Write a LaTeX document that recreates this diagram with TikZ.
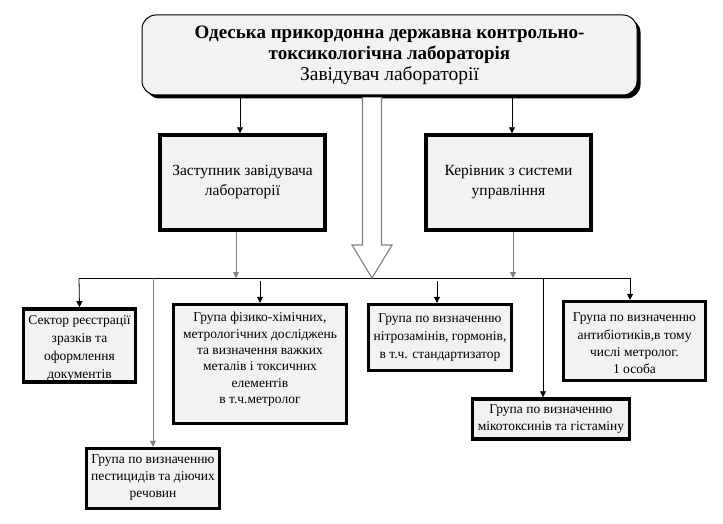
\documentclass[tikz,border=0pt]{standalone}
\usepackage{fontspec}
\setmainfont{Liberation Serif}
\usetikzlibrary{shadows,arrows.meta,calc}
\definecolor{boxgray}{HTML}{F2F2F2}
\definecolor{linegray}{HTML}{808080}
\newcommand{\dn}[1]{\rule[-#1]{0pt}{#1}}
\newcommand{\up}[1]{\rule{0pt}{#1}}
\begin{document}
\begin{tikzpicture}[x=1pt,y=-1pt,
  box/.style={draw=black, line width=3.4pt, fill=boxgray, align=center, inner sep=1pt,
    font=\fontsize{13.5}{17.8}\selectfont},
  bigbox/.style={box, font=\fontsize{15.5}{20}\selectfont},
  topbox/.style={draw=black, line width=1pt, fill=boxgray, rounded corners=14pt, align=center,
    font=\fontsize{19}{21}\selectfont\bfseries,
    drop shadow={shadow xshift=3.5pt, shadow yshift=-3.5pt, fill=black, opacity=1}},
  arr/.style={-{Triangle[length=6pt,width=6pt]}, line width=0.8pt},
  garr/.style={arr, draw=linegray},
]
\useasboundingbox (0,0) rectangle (723,524);
\fill[white] (0,0) rectangle (723,524);

\node[topbox, minimum width=495pt, minimum height=80pt] (top) at (389.5,55)
  {Одеська прикордонна державна контрольно-\\
   токсикологічна лабораторія\\
   \mdseries\fontsize{19.5}{21}\selectfont Завідувач лабораторії};

\node[bigbox, minimum width=165pt, minimum height=95pt] (zast) at (242.5,182.5)
  {Заступник завідувача\\лабораторії};
\node[bigbox, minimum width=165pt, minimum height=95pt] (ker) at (508.5,182.5)
  {Керівник з системи\\управління};

\coordinate (busL) at (79,278);
\coordinate (busR) at (630,278);
\coordinate (tip) at (372,278);

\node[box, minimum width=112pt, minimum height=73pt] (sec) at (79.5,345.5)
  {\up{15pt}Сектор реєстрації\\зразків та\\оформлення\\документів};
\node[box, minimum width=133pt, minimum height=60pt, font=\fontsize{13.5}{17}\selectfont] (pest) at (153,478.5)
  {Група по визначенню\\пестицидів та діючих\\речовин\dn{5pt}};
\node[box, minimum width=173pt, minimum height=119pt, font=\fontsize{13.5}{16.4}\selectfont] (phys) at (260,364)
  {Група фізико-хімічних,\\метрологічних досліджень\\та визначення важких\\металів і токсичних\\елементів\\в т.ч.метролог\dn{12pt}};
\node[box, minimum width=143pt, minimum height=66pt] (nitro) at (440,337.5)
  {Група по визначенню\\нітрозамінів, гормонів,\\в т.ч. стандартизатор};
\node[box, minimum width=157pt, minimum height=40pt] (myco) at (551,419)
  {Група по визначенню\\мікотоксинів та гістаміну};
\node[box, minimum width=142pt, minimum height=79pt, font=\fontsize{13.5}{17.3}\selectfont] (anti) at (634.5,341)
  {\up{14pt}Група по визначенню\\антибіотиків,в тому\\числі метролог.\\1 особа};

% connectors from top
\draw[arr] ($(top.south -| zast.north)+(-2.5,0)$) -- ($(zast.north)+(-2.5,0)$);
\draw[arr] ($(top.south -| ker.north)+(3.5,0)$) -- ($(ker.north)+(3.5,0)$);
\draw[garr] ($(zast.south)+(-6.5,0)$) -- ($(busL -| zast.south)+(-6.5,0)$);
\draw[garr] ($(ker.south)+(4.5,0)$) -- ($(busL -| ker.south)+(4.5,0)$);

% bus
\draw[line width=0.8pt] (busL) -- (busR);

% hollow arrow
\draw[linegray, line width=1.1pt, fill=white, line join=miter]
  ($(top.south -| tip)+(-9.5,2)$) -- ($(tip)+(-9.5,-33)$) -- ($(tip)+(-20,-33)$) -- (tip)
  -- ($(tip)+(20,-33)$) -- ($(tip)+(9.5,-33)$) -- ($(top.south -| tip)+(9.5,2)$);

% drops
\draw[arr] (busL) -- (sec.north);
\draw[garr] (busL -| pest.north) -- (pest.north);
\draw[arr] ($(busL -| phys.north)+(0,3)$) -- (phys.north);
\draw[arr] ($(busL -| nitro.north)+(-3,3)$) -- ($(nitro.north)+(-3,0)$);
\draw[arr] ($(busL -| myco.north)+(-8,0)$) -- ($(myco.north)+(-8,0)$);
\draw[arr] (busR) -- (busR |- anti.north);
\end{tikzpicture}
\end{document}
